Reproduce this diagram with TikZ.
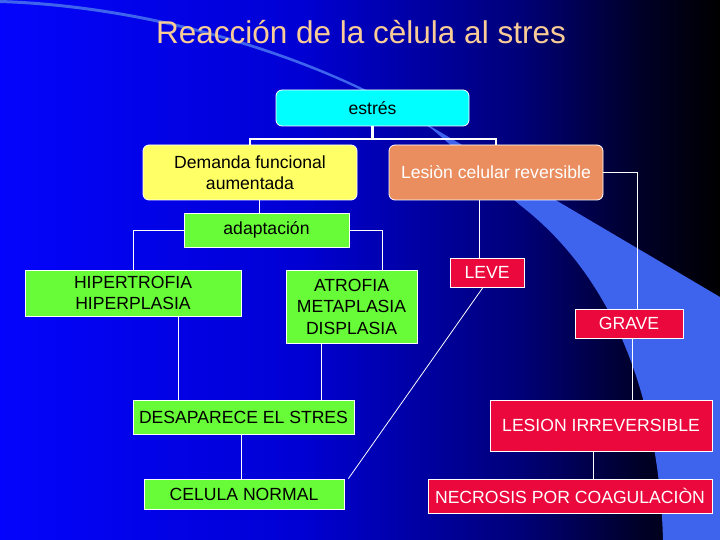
\documentclass[tikz,border=0pt]{standalone}
\usepackage{fontspec}
\setmainfont{Liberation Sans}
\usepackage{tikz}
\definecolor{titlepeach}{RGB}{250,204,150}
\definecolor{boxcyan}{RGB}{0,255,255}
\definecolor{boxyellow}{RGB}{255,255,102}
\definecolor{boxorange}{RGB}{234,142,96}
\definecolor{boxgreen}{RGB}{104,252,56}
\definecolor{boxred}{RGB}{234,8,60}
\definecolor{swoosh}{RGB}{62,100,238}
\definecolor{bgA}{RGB}{4,4,252}
\definecolor{bgB}{RGB}{0,0,212}
\definecolor{bgC}{RGB}{0,0,120}
\definecolor{bgD}{RGB}{0,0,40}
\newcommand{\boxtxt}{\fontsize{17.6}{21.5}\selectfont}
\newcommand{\titletxt}{\fontsize{31.5}{36}\selectfont}
\tikzset{
  box/.style={draw=white, line width=0.8pt, inner sep=0pt, align=center, font=\boxtxt},
  roundbox/.style={box, rounded corners=6pt},
  greenbox/.style={box, fill=boxgreen, text=black},
  redbox/.style={box, fill=boxred, text=white},
  thinline/.style={white, line width=0.8pt},
  thickline/.style={white, line width=2.6pt}
}

\begin{document}
\begin{tikzpicture}[x=1pt,y=-1pt]
\useasboundingbox (0,0) rectangle (720,540);
\shade[left color=bgA, right color=bgB] (0,0) rectangle (301,540);
\shade[left color=bgB, right color=bgC] (300,0) rectangle (521,540);
\shade[left color=bgC, right color=bgD] (520,0) rectangle (641,540);
\shade[left color=bgD, right color=black] (640,0) rectangle (720,540);
\fill[swoosh] (0,0) .. controls (160,5) and (330,60) .. (430,126) -- (720,297) -- (720,540) -- (663,540) .. controls (660,430) and (630,290) .. (520,205) -- (432,129) .. controls (330,63) and (160,8) .. (0,3) -- cycle;

\node[text=titlepeach, font=\titletxt, anchor=base] (title) at (361,43.3) {Reacción de la cèlula al stres};

\node[roundbox, fill=boxcyan, text=black, minimum width=193pt, minimum height=36pt] (estres) at (372.5,108) {estrés};
\node[roundbox, fill=boxyellow, text=black, minimum width=214pt, minimum height=55pt] (demanda) at (250,172.5) {Demanda funcional\\aumentada};
\node[roundbox, fill=boxorange, text=white, minimum width=214pt, minimum height=55pt] (lesion) at (496,172.5) {Lesiòn celular reversible};
\node[greenbox, minimum width=165pt, minimum height=34pt] (adaptacion) at (266.5,230) {adaptación};
\node[greenbox, minimum width=216pt, minimum height=46pt] (hiper) at (133,293) {HIPERTROFIA\\HIPERPLASIA};
\node[greenbox, minimum width=131pt, minimum height=73pt] (atrofia) at (351.5,306.5) {ATROFIA\\METAPLASIA\\DISPLASIA};
\node[greenbox, minimum width=221pt, minimum height=34pt] (desaparece) at (243.5,417) {DESAPARECE EL STRES};
\node[greenbox, minimum width=200pt, minimum height=30pt] (normal) at (244,494) {CELULA NORMAL};
\node[redbox, minimum width=74pt, minimum height=29pt] (leve) at (487,272.5) {LEVE};
\node[redbox, minimum width=108pt, minimum height=29pt] (grave) at (629,323.5) {GRAVE};
\node[redbox, minimum width=222pt, minimum height=51pt] (irreversible) at (601,425.5) {LESION IRREVERSIBLE};
\node[redbox, minimum width=284pt, minimum height=34pt] (necrosis) at (570,496) {NECROSIS POR COAGULACIÒN};

\coordinate (bar) at (372.5,139);
\draw[thickline] (estres.south) -- (bar);
\draw[thickline] (demanda.north) |- (bar) -| (lesion.north);
\draw[thinline] (lesion.east) -| ([xshift=8pt]grave.north);
\draw[thinline] ([xshift=-17pt]lesion.south) -- ([xshift=-8pt]leve.north);
\draw[thinline] ([xshift=9pt]demanda.south) -- ([xshift=-7.5pt]adaptacion.north);
\draw[thinline] (adaptacion.west) -| (hiper.north);
\draw[thinline] (adaptacion.east) -| ([xshift=30.5pt]atrofia.north);
\draw[thinline] ([xshift=45.5pt]hiper.south) -- ([xshift=-65pt]desaparece.north);
\draw[thinline] ([xshift=-30.5pt]atrofia.south) -- ([xshift=77.5pt]desaparece.north);
\draw[thinline] ([xshift=-2.5pt]desaparece.south) -- ([xshift=-3pt]normal.north);
\draw[thinline] ([xshift=-4pt]leve.south) -- ([xshift=4pt]normal.north east);
\draw[thinline] ([xshift=3pt]grave.south) -- ([xshift=31pt]irreversible.north);
\draw[thinline] ([xshift=-8pt]irreversible.south) -- ([xshift=23pt]necrosis.north);
\end{tikzpicture}
\end{document}
